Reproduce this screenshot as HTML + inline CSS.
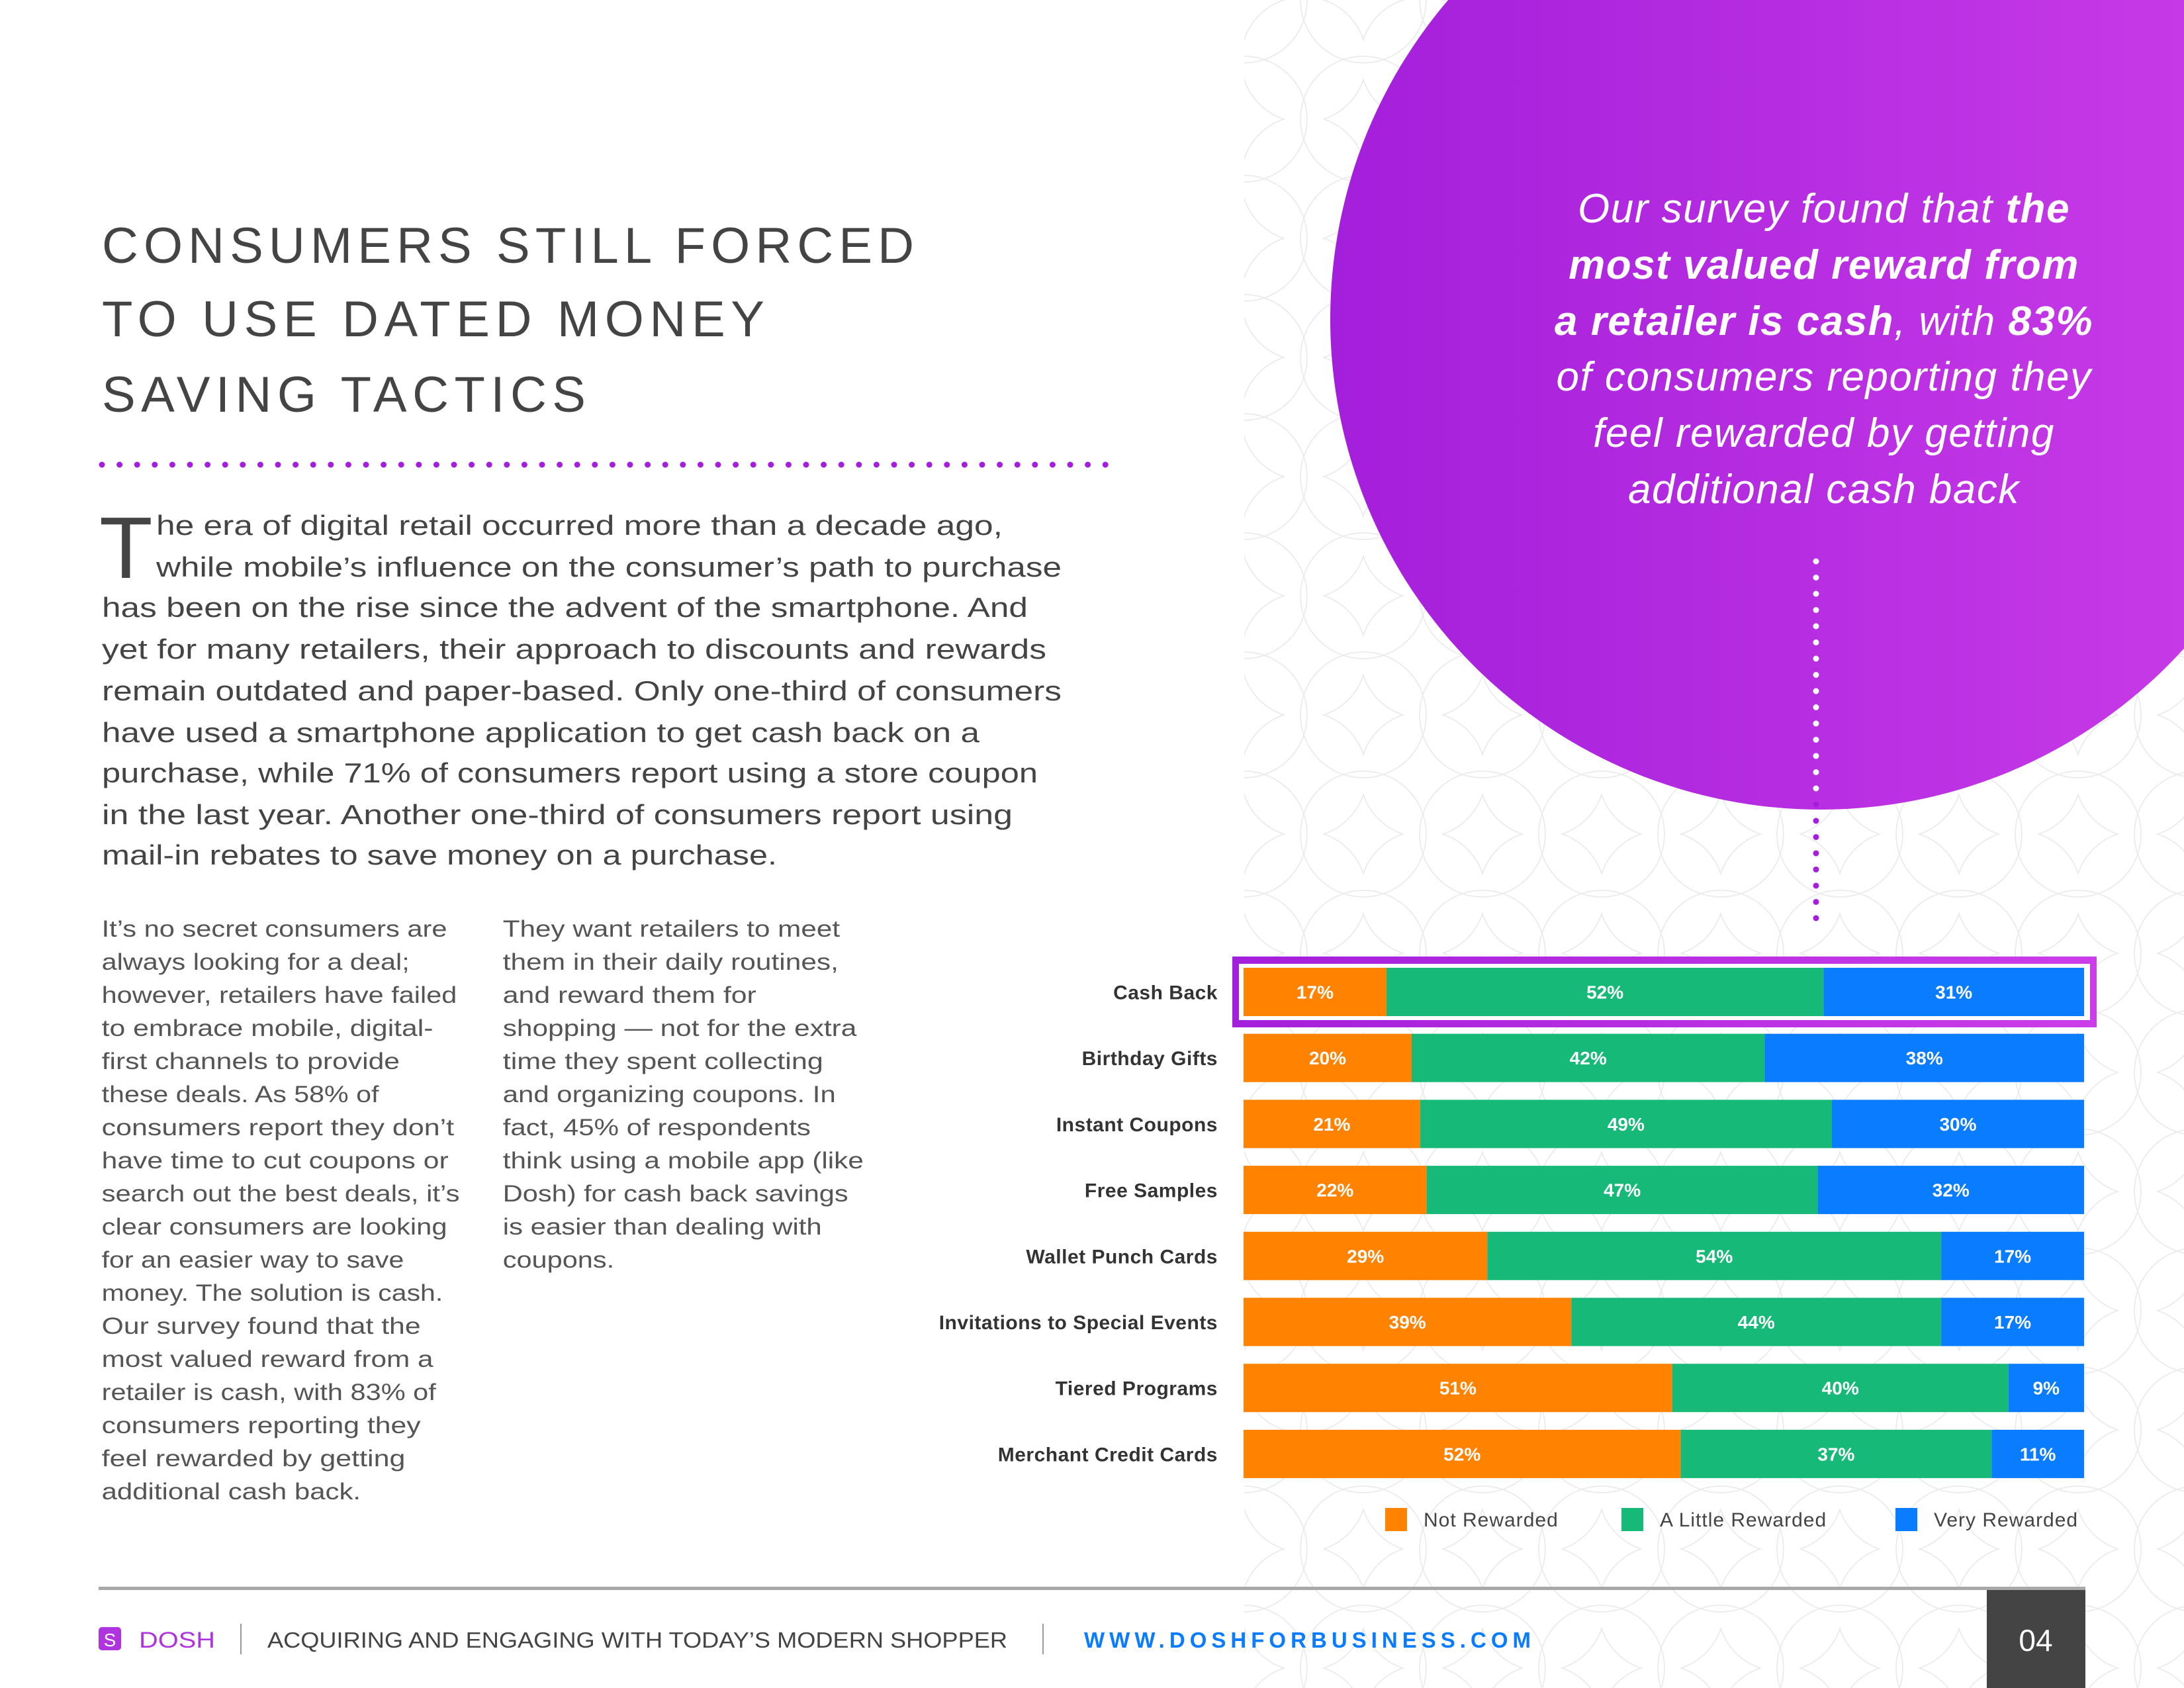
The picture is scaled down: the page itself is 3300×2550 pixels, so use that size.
<!DOCTYPE html>
<html><head><meta charset="utf-8"><style>
html,body{margin:0;padding:0;background:#fff;}
svg{display:block;}
</style></head><body>
<svg id="page" width="3300" height="2550" viewBox="0 0 3300 2550" xmlns="http://www.w3.org/2000/svg" font-family="'Liberation Sans', sans-serif">
<defs>
  <pattern id="scales" width="180" height="180" patternUnits="userSpaceOnUse" x="1880" y="0">
    <g fill="none" stroke="#ebebeb" stroke-width="1.8">
      <circle cx="0" cy="0" r="95"/><circle cx="180" cy="0" r="95"/>
      <circle cx="0" cy="180" r="95"/><circle cx="180" cy="180" r="95"/>
      <circle cx="90" cy="90" r="95"/>
    </g>
  </pattern>
  <linearGradient id="purp" x1="0" x2="1" y1="0" y2="0">
    <stop offset="0" stop-color="#a41fdb"/><stop offset="1" stop-color="#cb3de8"/>
  </linearGradient>
</defs>
<rect x="1880" y="0" width="1420" height="2550" fill="url(#scales)"/>
<circle cx="2751" cy="482" r="741" fill="url(#purp)"/>
<g id="dots-v"></g>
<g id="dots-h"></g>

<g fill="#444" font-size="76" letter-spacing="9">
  <text x="154" y="397" textLength="1236" lengthAdjust="spacing">CONSUMERS STILL FORCED</text>
  <text x="154" y="508" textLength="1010" lengthAdjust="spacing">TO USE DATED MONEY</text>
  <text x="154" y="622" textLength="740" lengthAdjust="spacing">SAVING TACTICS</text>
</g>
<text x="150" y="873" font-size="132" fill="#444">T</text>
<g id="body" fill="#444"></g>

<g fill="#fff" font-size="62" font-style="italic" text-anchor="middle" letter-spacing="1.5">
  <text x="2756" y="336">Our survey found that <tspan font-weight="bold">the</tspan></text>
  <text x="2756" y="421" font-weight="bold">most valued reward from</text>
  <text x="2756" y="506"><tspan font-weight="bold">a retailer is cash</tspan>, with <tspan font-weight="bold">83%</tspan></text>
  <text x="2756" y="590">of consumers reporting they</text>
  <text x="2756" y="675">feel rewarded by getting</text>
  <text x="2756" y="760">additional cash back</text>
</g>

<g id="chart"></g>

<g>
  <rect x="149" y="2397" width="3002" height="5" fill="#a8a8a8"/>
  <rect x="3002" y="2402" width="149" height="148" fill="#444"/>
  <text x="3076" y="2494" font-size="46" fill="#fff" text-anchor="middle">04</text>
  <rect x="149" y="2458" width="34" height="35" rx="5" fill="#b033e0"/>
  <text x="166" y="2487" font-size="28" fill="#fff" text-anchor="middle">S</text>
  <text x="210" y="2489" font-size="34" fill="#b033e0" textLength="115" lengthAdjust="spacingAndGlyphs">DOSH</text>
  <rect x="363" y="2453" width="2" height="46" fill="#999"/>
  <text x="404" y="2489" font-size="33" fill="#444" textLength="1118" lengthAdjust="spacingAndGlyphs">ACQUIRING AND ENGAGING WITH TODAY’S MODERN SHOPPER</text>
  <rect x="1575" y="2453" width="2" height="46" fill="#999"/>
  <text x="1638" y="2489" font-size="33" fill="#0a7cff" font-weight="bold" textLength="675" lengthAdjust="spacing">WWW.DOSHFORBUSINESS.COM</text>
</g>
</svg>
<script>
const NS='http://www.w3.org/2000/svg';
function mk(tag,parent,attrs){const e=document.createElementNS(NS,tag);for(const k in attrs)e.setAttribute(k,attrs[k]);parent.appendChild(e);return e;}

const dv=document.getElementById('dots-v');
for(let y=848;y<=1390;y+=24.5){
  const c=mk('circle',dv,{cx:2744,cy:y,r:4.5,fill:(y<1215?'#fff':'#a41fdb')});
  
  
}
const dh=document.getElementById('dots-h');
for(let x=154;x<=1695;x+=26.6){
  const c=mk('circle',dh,{cx:x,cy:702,r:4.5,fill:'#a41fdb'});
  
  
}

const body=document.getElementById('body');
const para=[
 [236,808,1515,"he era of digital retail occurred more than a decade ago,"],
 [236,871,1604,"while mobile’s influence on the consumer’s path to purchase"],
 [154,932,1553,"has been on the rise since the advent of the smartphone. And"],
 [154,995,1581,"yet for many retailers, their approach to discounts and rewards"],
 [154,1058,1604,"remain outdated and paper-based. Only one-third of consumers"],
 [154,1121,1480,"have used a smartphone application to get cash back on a"],
 [154,1182,1568,"purchase, while 71% of consumers report using a store coupon"],
 [154,1245,1530,"in the last year. Another one-third of consumers report using"],
 [154,1306,1174,"mail-in rebates to save money on a purchase."]
];
para.forEach(p=>{
  const t=mk('text',body,{x:p[0],y:p[1],'font-size':42,textLength:p[2]-p[0],lengthAdjust:'spacingAndGlyphs'});
  t.textContent=p[3];
  
  
});
const col1=[["It’s no secret consumers are",321],["always looking for a deal;",294],["however, retailers have failed",328],["to embrace mobile, digital-",311],["first channels to provide",287],["these deals. As 58% of",272],["consumers report they don’t",326],["have time to cut coupons or",322],["search out the best deals, it’s",330],["clear consumers are looking",321],["for an easier way to save",290],["money. The solution is cash.",318],["Our survey found that the",302],["most valued reward from a",311],["retailer is cash, with 83% of",313],["consumers reporting they",302],["feel rewarded by getting",291],["additional cash back.",259]];
const col2=[["They want retailers to meet",603],["them in their daily routines,",602],["and reward them for",543],["shopping — not for the extra",615],["time they spent collecting",591],["and organizing coupons. In",600],["fact, 45% of respondents",582],["think using a mobile app (like",620],["Dosh) for cash back savings",609],["is easier than dealing with",590],["coupons.",441]];
function col(lines,x0d){
  lines.forEach((l,i)=>{
    const x0=x0d*2.1046, x1=l[1]*2.1046;
    const t=mk('text',body,{x:x0,y:1415+i*50,'font-size':35,fill:'#555',textLength:x1-x0,lengthAdjust:'spacingAndGlyphs'});
    t.textContent=l[0];
    
    
  });
}
col(col1,73);col(col2,361);
</script>
<script>
const categories=["Cash Back","Birthday Gifts","Instant Coupons","Free Samples","Wallet Punch Cards","Invitations to Special Events","Tiered Programs","Merchant Credit Cards"];
const notRewarded=[17,20,21,22,29,39,51,52];
const littleRewarded=[52,42,49,47,54,44,40,37];
const veryRewarded=[31,38,30,32,17,17,9,11];
const seriesNames=["Not Rewarded","A Little Rewarded","Very Rewarded"];
const seriesColors=["#ff8200","#17b978","#0a7cff"];

const chart=document.getElementById('chart');
const X0=1879, XW=1270, Y0=1462, STEP=99.7, BH=73;
function xScale(v,total){return X0+v/total*XW;}
function yScale(i){return Y0+i*STEP;}

const hy=yScale(0);
const hl=mk('rect',chart,{x:1862,y:hy-17,width:1306,height:BH+34,fill:'url(#purp)'});


const hw=mk('rect',chart,{x:1872,y:hy-6,width:1286,height:BH+12,fill:'#fff'});



const series=[notRewarded,littleRewarded,veryRewarded];
categories.forEach((cat,i)=>{
  const y=yScale(i);
  const total=series.reduce((a,s)=>a+s[i],0);
  const lab=mk('text',chart,{x:1840,y:y+BH/2+11,'font-size':30,fill:'#333','text-anchor':'end','font-weight':'bold','letter-spacing':'0.5'});
  lab.textContent=cat;
  
  
  let acc=0;
  series.forEach((s,k)=>{
    const v=s[i];
    const xa=xScale(acc,total), xb=xScale(acc+v,total);
    const r=mk('rect',chart,{x:xa,y:y,width:xb-xa,height:BH,fill:seriesColors[k]});
    
    
    const t=mk('text',chart,{x:(xa+xb)/2,y:y+BH/2+10,'font-size':28,'font-weight':'bold',fill:'#fff','text-anchor':'middle'});
    t.textContent=v+'%';
    
    
    acc+=v;
  });
});
const legX=[2093,2450,2864];
seriesNames.forEach((n,k)=>{
  const sq=mk('rect',chart,{x:legX[k],y:2278,width:33,height:35,fill:seriesColors[k]});
  
  
  const t=mk('text',chart,{x:legX[k]+58,y:2306,'font-size':30,fill:'#444','letter-spacing':'1'});
  t.textContent=n;
  
  
});
</script>
</body></html>
